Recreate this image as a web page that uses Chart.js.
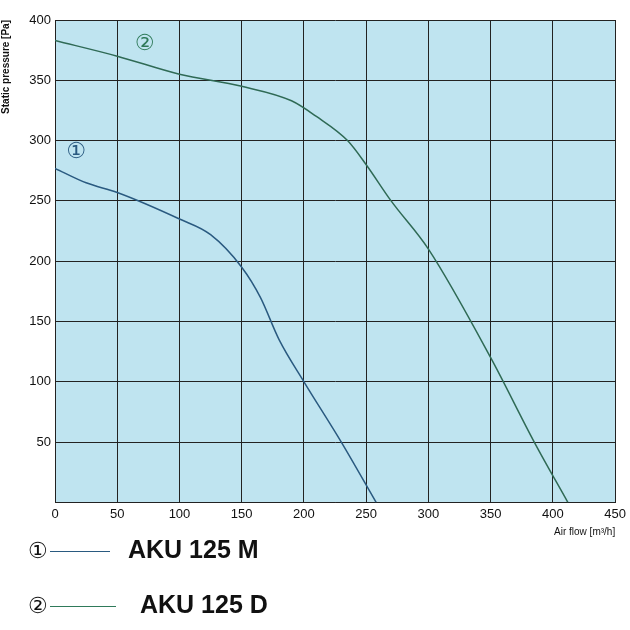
<!DOCTYPE html>
<html><head><meta charset="utf-8">
<script src="https://cdn.jsdelivr.net/npm/chart.js@4"></script>
<style>
body{margin:0;background:#fff;font-family:"Liberation Sans",Arial,sans-serif;}
#wrap{position:relative;width:630px;height:542px;}
.leg{position:absolute;left:28px;font-weight:bold;font-size:25px;color:#111;}
.leg .n{font-weight:normal;font-size:22px;display:inline-block;width:22px;}
.leg .ln{display:inline-block;width:60px;height:0;border-bottom:1.5px solid;margin-right:18px;vertical-align:middle;}
</style></head><body>
<div id="wrap"><canvas id="c" width="630" height="542"></canvas></div>
<div class="leg" style="top:535px"><span class="n">①</span><span class="ln" style="border-color:#2a5a80"></span>AKU 125 M</div>
<div class="leg" style="top:590px"><span class="n">②</span><span class="ln" style="border-color:#2f7a5a;width:66px;margin-right:24px"></span>AKU 125 D</div>
<script>
const airFlowM = [0, 25, 50, 100, 125, 150, 165, 180, 200, 230, 258];
const pressureM = [277, 265, 257, 235, 222, 195, 170, 135, 100, 50, 0];
const airFlowD = [0, 50, 100, 150, 190, 210, 235, 250, 270, 300, 350, 385, 412];
const pressureD = [383, 370, 355, 345, 333, 320, 300, 280, 250, 210, 120, 50, 0];
const xTicks = [0, 50, 100, 150, 200, 250, 300, 350, 400, 450];
const yTicks = [0, 50, 100, 150, 200, 250, 300, 350, 400];

const bgPlugin = {
  id: 'bg',
  beforeDraw(chart) {
    const {ctx, chartArea: a} = chart;
    ctx.save(); ctx.fillStyle = '#bfe4f0';
    ctx.fillRect(a.left, a.top, a.right - a.left, a.bottom - a.top);
    ctx.restore();
  },
  afterDatasetsDraw(chart) {
    const {ctx, scales: {x, y}} = chart;
    ctx.save(); ctx.font = '22px "DejaVu Sans"'; ctx.textAlign = 'center'; ctx.textBaseline = 'middle';
    ctx.fillStyle = '#2a5a80'; ctx.fillText('①', x.getPixelForValue(17), y.getPixelForValue(290));
    ctx.fillStyle = '#2f7a5a'; ctx.fillText('②', x.getPixelForValue(72), y.getPixelForValue(380));
    ctx.restore();
  }
};

new Chart(document.getElementById('c'), {
  type: 'scatter',
  plugins: [bgPlugin],
  data: {
    datasets: [
      {data: airFlowM.map((v, i) => ({x: v, y: pressureM[i]})), borderColor: '#2a5a80'},
      {data: airFlowD.map((v, i) => ({x: v, y: pressureD[i]})), borderColor: '#2f6a55'}
    ].map(d => Object.assign(d, {showLine: true, tension: 0.4, pointRadius: 0, borderWidth: 1.5, cubicInterpolationMode: 'monotone'}))
  },
  options: {
    responsive: false, animation: false,
    layout: {padding: {top: 20, right: 14}},
    plugins: {legend: {display: false}, tooltip: {enabled: false}},
    scales: {
      x: {
        type: 'linear', min: 0, max: 450,
        afterBuildTicks: s => { s.ticks = xTicks.map(v => ({value: v})); },
        grid: {color: '#222', lineWidth: 1, tickLength: 0},
        border: {color: '#222'},
        ticks: {color: '#111', font: {size: 13, family: 'Liberation Sans'}, padding: 4},
        title: {display: true, text: 'Air flow [m³/h]', align: 'end', color: '#111', font: {size: 10, family: 'Liberation Sans'}, padding: {top: 0}}
      },
      y: {
        min: 0, max: 400,
        afterBuildTicks: s => { s.ticks = yTicks.map(v => ({value: v})); },
        afterFit: s => { s.width = 55; },
        grid: {color: '#222', lineWidth: 1, tickLength: 0},
        border: {color: '#222'},
        ticks: {color: '#111', font: {size: 13, family: 'Liberation Sans'}, padding: 4, callback: v => v === 0 ? '' : v},
        title: {display: true, text: 'Static pressure [Pa]', align: 'end', color: '#111', font: {size: 10, weight: 'bold', family: 'Liberation Sans'}, padding: 0}
      }
    }
  }
});
</script>
</body></html>
